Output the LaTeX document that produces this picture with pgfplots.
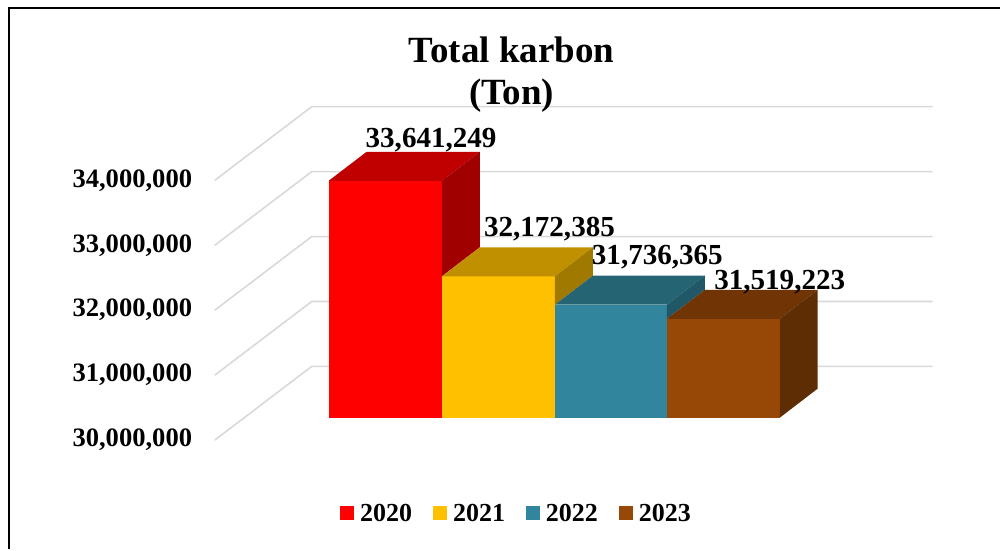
\documentclass[border=0pt]{standalone}
\usepackage{pgfplots}
\pgfplotsset{compat=1.18}
\usepackage{fontspec}
\setmainfont{Liberation Serif}
\definecolor{cR}{HTML}{FF0000}\definecolor{cRt}{HTML}{C00000}\definecolor{cRs}{HTML}{A00000}
\definecolor{cY}{HTML}{FFC000}\definecolor{cYt}{HTML}{C09000}\definecolor{cYs}{HTML}{A07A00}
\definecolor{cT}{HTML}{31859C}\definecolor{cTt}{HTML}{256573}\definecolor{cTs}{HTML}{205868}
\definecolor{cB}{HTML}{974706}\definecolor{cBt}{HTML}{713505}\definecolor{cBs}{HTML}{5F2D04}
\definecolor{grd}{HTML}{D9D9D9}
\begin{document}
\begin{tikzpicture}[x=1bp,y=1bp]
\path (0,0) rectangle (1001,550);
% back wall: tick labels and gridlines
\begin{axis}[
  at={(215bp,0bp)},anchor=south west,scale only axis,width=718bp,height=550bp,
  xmin=215,xmax=933,ymin=28315384,ymax=36776923,
  axis line style={draw=none},major tick length=0pt,xtick=\empty,
  ytick={30000000,31000000,32000000,33000000,34000000},
  scaled y ticks=false,
  yticklabel style={/pgf/number format/fixed,/pgf/number format/1000 sep={,},
    /pgf/number format/assume math mode=true,
    font=\fontsize{26.6bp}{30bp}\selectfont\bfseries,inner sep=0pt,xshift=-22.5bp},
  clip=false]
\addplot[grd,line width=1.6bp,no marks] coordinates {(215,30000000)(312,31133846)(933.5,31133846)};
\addplot[grd,line width=1.6bp,no marks] coordinates {(215,31000000)(312,32133846)(933.5,32133846)};
\addplot[grd,line width=1.6bp,no marks] coordinates {(215,32000000)(312,33133846)(933.5,33133846)};
\addplot[grd,line width=1.6bp,no marks] coordinates {(215,33000000)(312,34133846)(933.5,34133846)};
\addplot[grd,line width=1.6bp,no marks] coordinates {(215,34000000)(312,35133846)(933.5,35133846)};
\end{axis}
% bars
\begin{axis}[
  at={(0bp,0bp)},anchor=south west,scale only axis,width=1001bp,height=550bp,
  xmin=0,xmax=1001,ymin=27972351,ymax=36420891,
  axis line style={draw=none},major tick length=0pt,xtick=\empty,ytick=\empty,
  clip=false,
  title={Total karbon\\(Ton)},
  title style={at={(0.5115,0.8525)},anchor=center,align=center,inner sep=0pt,
    font=\fontsize{37bp}{42bp}\selectfont\bfseries},
  legend columns=4,
  legend style={at={(0.5155,0.0655)},anchor=center,draw=none,fill=none,
    font=\fontsize{26bp}{30bp}\selectfont\bfseries,
    nodes={inner sep=0pt},
    inner sep=0pt,
    /tikz/every even column/.append style={column sep=21bp},
    /tikz/every odd column/.append style={column sep=6bp}},
  legend image code/.code={\path[#1] (0bp,-7bp) rectangle (14bp,7bp);},
  every axis plot/.append style={draw=none,no marks,line width=0pt}]
% 2020
\addplot[fill=cR] coordinates {(329,30000000)(442.3,30000000)(442.3,33641249)(329,33641249)} --cycle;
\addlegendentry{2020}
\addplot[fill=cRt,forget plot] coordinates {(329,33641249)(442.3,33641249)(480.3,34086718)(367,34086718)} --cycle;
\addplot[fill=cRs,forget plot] coordinates {(442.3,32172385)(480.3,32617854)(480.3,34086718)(442.3,33641249)} --cycle;
% 2021
\addplot[fill=cY] coordinates {(442.3,30000000)(555.5,30000000)(555.5,32172385)(442.3,32172385)} --cycle;
\addlegendentry{2021}
\addplot[fill=cYt,forget plot] coordinates {(442.3,32172385)(555.5,32172385)(593.5,32617854)(480.3,32617854)} --cycle;
\addplot[fill=cYs,forget plot] coordinates {(555.5,31736365)(593.5,32181834)(593.5,32617854)(555.5,32172385)} --cycle;
% 2022
\addplot[fill=cT] coordinates {(555.5,30000000)(667.5,30000000)(667.5,31736365)(555.5,31736365)} --cycle;
\addlegendentry{2022}
\addplot[fill=cTt,forget plot] coordinates {(555.5,31736365)(667.5,31736365)(705.5,32181834)(593.5,32181834)} --cycle;
\addplot[fill=cTs,forget plot] coordinates {(667.5,31519223)(705.5,31964692)(705.5,32181834)(667.5,31736365)} --cycle;
% 2023
\addplot[fill=cB] coordinates {(667.5,30000000)(780.7,30000000)(780.7,31519223)(667.5,31519223)} --cycle;
\addlegendentry{2023}
\addplot[fill=cBt,forget plot] coordinates {(667.5,31519223)(780.7,31519223)(818.5,31964692)(705.5,31964692)} --cycle;
\addplot[fill=cBs,forget plot] coordinates {(780.7,30000000)(818.5,30445469)(818.5,31964692)(780.7,31519223)} --cycle;
% data labels
\tikzset{dl/.style={anchor=base,inner sep=0pt,font=\fontsize{29.1bp}{32bp}\selectfont\bfseries}}
\node[dl,yshift=33.2bp] at (axis cs:431.5,33641249) {33,641,249};
\node[dl,yshift=40.0bp] at (axis cs:550,32172385) {32,172,385};
\node[dl,yshift=40.6bp] at (axis cs:658,31736365) {31,736,365};
\node[dl,yshift=29.6bp] at (axis cs:780.5,31519223) {31,519,223};
\end{axis}
% frame
\draw[black,line width=2bp] (9.5,0) -- (9.5,542.3) -- (1001,542.3);
\end{tikzpicture}
\end{document}
